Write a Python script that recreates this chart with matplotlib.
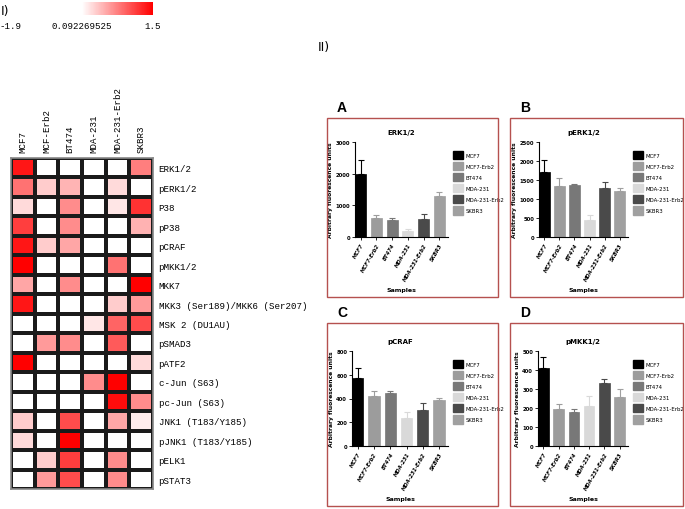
import matplotlib.pyplot as plt
import numpy as np
from matplotlib.colors import LinearSegmentedColormap, TwoSlopeNorm
from matplotlib.cm import ScalarMappable
from matplotlib.patches import Rectangle, Patch

# heatmap data (z-scores)
cell_lines = ['MCF7', 'MCF-Erb2', 'BT474', 'MDA-231', 'MDA-231-Erb2', 'SKBR3']
proteins = ['ERK1/2', 'pERK1/2', 'P38', 'pP38', 'pCRAF', 'pMKK1/2', 'MKK7',
            'MKK3 (Ser189)/MKK6 (Ser207)', 'MSK 2 (DU1AU)', 'pSMAD3', 'pATF2',
            'c-Jun (S63)', 'pc-Jun (S63)', 'JNK1 (T183/Y185)', 'pJNK1 (T183/Y185)',
            'pELK1', 'pSTAT3']
zscores = np.array([
    [1.37, -0.6, -0.7, -0.5, -0.8, 0.80],
    [0.87, 0.37, 0.50, -0.6, 0.30, -0.4],
    [0.30, -0.5, 0.73, -0.6, 0.23, 1.22],
    [1.15, -0.7, 0.73, -0.5, -0.6, 0.52],
    [1.37, 0.37, 0.58, -0.8, -0.4, -0.6],
    [1.50, -0.5, -0.6, -0.7, 0.87, -0.5],
    [0.58, -0.6, 0.73, -0.5, -0.7, 1.50],
    [1.37, -0.4, -0.6, -0.5, 0.37, 0.65],
    [-0.8, -0.6, -0.5, 0.23, 0.94, 1.08],
    [-0.7, 0.65, 0.73, -0.6, 1.00, -0.5],
    [1.50, -0.5, -0.6, -0.7, -0.4, 0.30],
    [-0.6, -0.7, -0.5, 0.73, 1.50, -0.6],
    [-0.5, -0.6, -0.7, -0.6, 1.43, 0.73],
    [0.37, -0.5, 1.08, -0.7, 0.58, 0.20],
    [0.30, -0.6, 1.50, -0.5, -0.6, -0.7],
    [-0.6, 0.37, 1.15, -0.8, 0.73, -0.5],
    [-0.5, 0.65, 1.08, -0.7, 0.73, -0.6],
])
z_min, z_mid, z_max = -1.9, 0.092269525, 1.5

# bar chart data
samples = ['MCF7', 'MCF7-Erb2', 'BT474', 'MDA-231', 'MDA-231-Erb2', 'SKBR3']
bar_colors = ['#000000', '#9c9c9c', '#787878', '#d9d9d9', '#4a4a4a', '#a0a0a0']
erk_mean = [1980, 610, 550, 200, 580, 1280]
erk_err = [450, 70, 60, 50, 150, 130]
perk_mean = [1700, 1330, 1380, 440, 1290, 1200]
perk_err = [320, 220, 20, 150, 160, 100]
pcraf_mean = [575, 420, 450, 240, 305, 385]
pcraf_err = [85, 40, 15, 45, 55, 20]
pmkk_mean = [410, 195, 178, 213, 330, 258]
pmkk_err = [60, 28, 15, 50, 22, 40]

W, H = 685, 510
fig = plt.figure(figsize=(W / 100, H / 100), dpi=100)


def fpos(x0, y0, x1, y1):
    # pixel box (top-left origin) -> figure fraction
    return [x0 / W, 1 - y1 / H, (x1 - x0) / W, (y1 - y0) / H]


mono = 'Liberation Mono'
cmap = LinearSegmentedColormap.from_list('wr', [(0, 'white'), (0.5, 'white'), (1, '#ff0000')])
norm = TwoSlopeNorm(vcenter=z_mid, vmin=z_min, vmax=z_max)

# --- heatmap
ax = fig.add_axes(fpos(11, 159, 153, 490))
ax.pcolormesh(zscores, cmap=cmap, norm=norm, edgecolors='#1a1a1a', linewidth=1.6)
ax.set_xlim(0, len(cell_lines))
ax.set_ylim(len(proteins), 0)
ax.xaxis.tick_top()
ax.yaxis.tick_right()
ax.set_xticks(np.arange(len(cell_lines)) + 0.5)
ax.set_xticklabels(cell_lines, rotation=90, family=mono, fontsize=6.6)
ax.set_yticks(np.arange(len(proteins)) + 0.5)
ax.set_yticklabels(proteins, family=mono, fontsize=6.6)
ax.tick_params(length=0, pad=4)
for s in ax.spines.values():
    s.set_color('#888888')
    s.set_linewidth(1.2)

# --- colour key
cax = fig.add_axes(fpos(11, 3, 153, 16))
cb = fig.colorbar(ScalarMappable(norm=norm, cmap=cmap), cax=cax, orientation='horizontal')
cb.outline.set_visible(False)
cb.set_ticks([z_min, z_mid, z_max])
cb.set_ticklabels(['-1.9', '0.092269525', '1.5'])
cax.tick_params(length=0, pad=4, labelsize=6.6)
for t in cax.get_xticklabels():
    t.set_family(mono)

fig.text(1 / W, 1 - 12 / H, 'I)', fontsize=9, va='center', ha='left')
fig.text(318 / W, 1 - 47 / H, 'II)', fontsize=9, va='center', ha='left')

# --- bar panels
panels = [
    ('A', 'ERK1/2', erk_mean, erk_err, 3000, 1000, (327, 119, 498, 298), (355, 143, 448, 238)),
    ('B', 'pERK1/2', perk_mean, perk_err, 2500, 500, (510, 119, 683, 298), (539, 143, 628, 238)),
    ('C', 'pCRAF', pcraf_mean, pcraf_err, 800, 200, (327, 324, 498, 507), (352, 352, 448, 447)),
    ('D', 'pMKK1/2', pmkk_mean, pmkk_err, 500, 100, (510, 324, 683, 507), (538, 352, 628, 447)),
]
for letter, title, mean, err, ymax, ystep, box, inner in panels:
    bx0, by0, bx1, by1 = box
    fig.patches.append(Rectangle((bx0 / W, 1 - by1 / H), (bx1 - bx0) / W, (by1 - by0) / H,
                                 transform=fig.transFigure, fill=False,
                                 edgecolor='#b5514f', linewidth=1.0))
    fig.text((bx0 + 10) / W, 1 - (by0 - 11) / H, letter, fontsize=10, fontweight='bold',
             ha='left', va='center', family='Liberation Sans')
    a = fig.add_axes(fpos(*inner))
    x = np.arange(len(samples))
    for i in x:
        a.bar(i, mean[i], width=0.7, color=bar_colors[i], edgecolor=bar_colors[i], linewidth=0.5)
        a.errorbar(i, mean[i], yerr=[[0], [err[i]]], color=bar_colors[i], capsize=2,
                   elinewidth=0.8, capthick=0.8)
    a.set_xlim(-0.35, 5.55)
    a.set_ylim(0, ymax)
    a.set_yticks(np.arange(0, ymax + 1, ystep))
    a.set_xticks(x)
    a.set_xticklabels(samples, rotation=60, ha='right', rotation_mode='anchor',
                      fontsize=3.8, style='italic', fontweight='bold')
    a.tick_params(axis='both', length=2, width=0.6, pad=1.5, labelsize=3.8)
    for t in a.get_yticklabels():
        t.set_fontweight('bold')
    a.spines['top'].set_visible(False)
    a.spines['right'].set_visible(False)
    a.spines['left'].set_linewidth(0.8)
    a.spines['bottom'].set_linewidth(0.8)
    a.set_title(title, fontsize=5, fontweight='bold', pad=6)
    a.set_ylabel('Arbitrary fluorescence units', fontsize=4.3, fontweight='bold', labelpad=1.5)
    fig.text((inner[0] + inner[2]) / 2 / W, 1 - (by1 - 7) / H, 'Samples', fontsize=4.5,
             fontweight='bold', ha='center', va='center')
    handles = [Patch(facecolor=c, edgecolor=c) for c in bar_colors]
    a.legend(handles, samples, loc='upper left', bbox_to_anchor=(1.03, 0.93), frameon=False,
             fontsize=3.9, handlelength=1.9, handleheight=2.0, labelspacing=0.5,
             handletextpad=0.4, borderaxespad=0)

fig.savefig('out.png', dpi=100)
